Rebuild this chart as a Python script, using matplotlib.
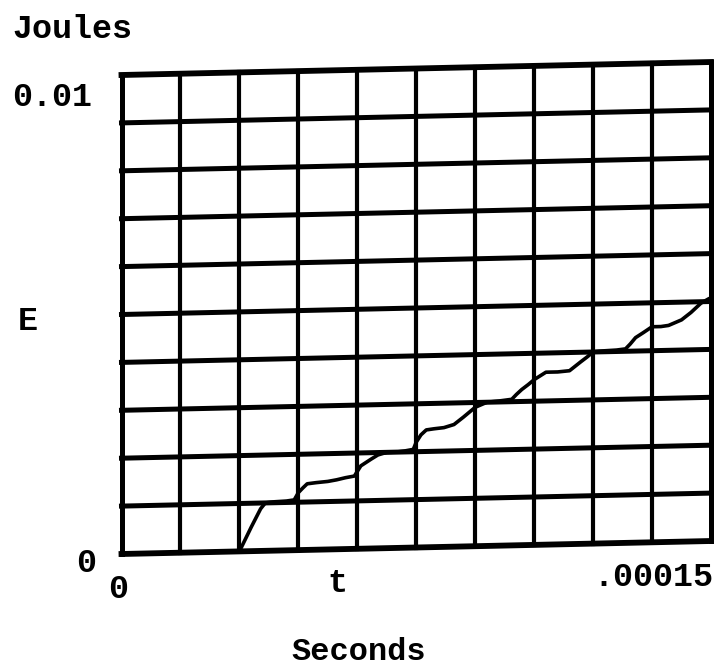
import numpy as np
import matplotlib
matplotlib.use("Agg")
import matplotlib.pyplot as plt
from matplotlib.transforms import Affine2D

# Data (time in microseconds, energy in millijoules)
t_us = [0, 30.0, 31.5, 33.0, 35.4, 36.6, 39.0, 42.0, 43.95, 45.0, 46.2, 47.25, 49.5,
        52.5, 54.75, 57.0, 59.25, 60.9, 62.25, 63.6, 65.25, 67.5, 69.75, 72.0, 74.25,
        75.0, 76.2, 77.55, 79.5, 82.05, 84.6, 87.0, 88.5, 90.0, 93.0, 96.0, 99.3,
        100.5, 101.85, 103.5, 105.0, 108.0, 111.0, 114.0, 116.85, 118.5, 120.0, 123.0,
        126.0, 128.25, 129.45, 130.8, 132.75, 135.0, 137.25, 139.2, 141.0, 142.5,
        144.9, 147.45, 149.25]
E_mJ = [0, 0, 0.25, 0.5, 0.88, 1.0, 1.02, 1.03, 1.05, 1.2, 1.3, 1.38, 1.4,
        1.42, 1.45, 1.49, 1.52, 1.73, 1.8, 1.87, 1.95, 2.0, 2.0, 2.02, 2.05,
        2.2, 2.35, 2.45, 2.47, 2.49, 2.55, 2.7, 2.8, 2.9, 3.0, 3.02, 3.05,
        3.15, 3.25, 3.35, 3.45, 3.6, 3.6, 3.62, 3.8, 3.9, 4.0, 4.02,
        4.03, 4.05, 4.15, 4.28, 4.38, 4.5, 4.5, 4.52, 4.58, 4.63,
        4.78, 4.97, 5.05]

x_max = 0.00015
y_max = 0.01
n_div = 10

t = np.array(t_us) * 1e-6
E = np.array(E_mJ) * 1e-3

W, H = 714, 666
x0, x1 = 121.5, 711.0      # left / right edge of the plot frame (px)
y_top, y_bot = 75.0, 554.0  # top / bottom at the left edge (px from top)
rise = 13.0                 # frame rises this many px from left to right (scan skew)

fig = plt.figure(figsize=(W / 100, H / 100), dpi=100)
ax = fig.add_axes([x0 / W, 1 - y_bot / H, (x1 - x0) / W, (y_bot - y_top) / H])
ax.set_xlim(0, x_max)
ax.set_ylim(0, y_max)
ax.axis('off')

# vertical shear about the bottom-left corner of the frame (display coords)
k = rise / (x1 - x0)
yb = H - y_bot
shear = Affine2D().translate(-x0, -yb).skew(0, np.arctan(k)).translate(x0, yb)
tr = ax.transData + shear

gx = np.linspace(0, x_max, n_div + 1)
gy = np.linspace(0, y_max, n_div + 1)
for i, yv in enumerate(gy):
    lw = 4.2 if i in (0, n_div) else 3.6
    ax.plot([0, x_max], [yv, yv], color='black', linewidth=lw,
            solid_capstyle='projecting', transform=tr, clip_on=False)
for i, xv in enumerate(gx):
    lw = 3.6 if i in (0, n_div) else 3.0
    ax.plot([xv, xv], [0, y_max], color='black', linewidth=lw,
            solid_capstyle='projecting', transform=tr, clip_on=False)

ax.plot(t, E, color='black', linewidth=2.6, solid_joinstyle='round',
        transform=tr, clip_on=False)

font = dict(family=['Liberation Mono', 'DejaVu Sans Mono'], fontsize=24,
            fontweight='bold', color='black')

def px(x, y, s, ha='left', va='center', **kw):
    d = dict(font)
    d.update(kw)
    fig.text(x / W, 1 - y / H, s, ha=ha, va=va, **d)

px(12, 30, 'Joules')
px(12, 97, '0.01')
px(18, 322, 'E')
px(76, 563, '0')
px(108, 590, '0')
px(327, 584, 't')
px(713, 577, '.00015', ha='right')
px(359, 652, 'Seconds', ha='center', fontsize=23)

fig.savefig('out.png', dpi=100)
